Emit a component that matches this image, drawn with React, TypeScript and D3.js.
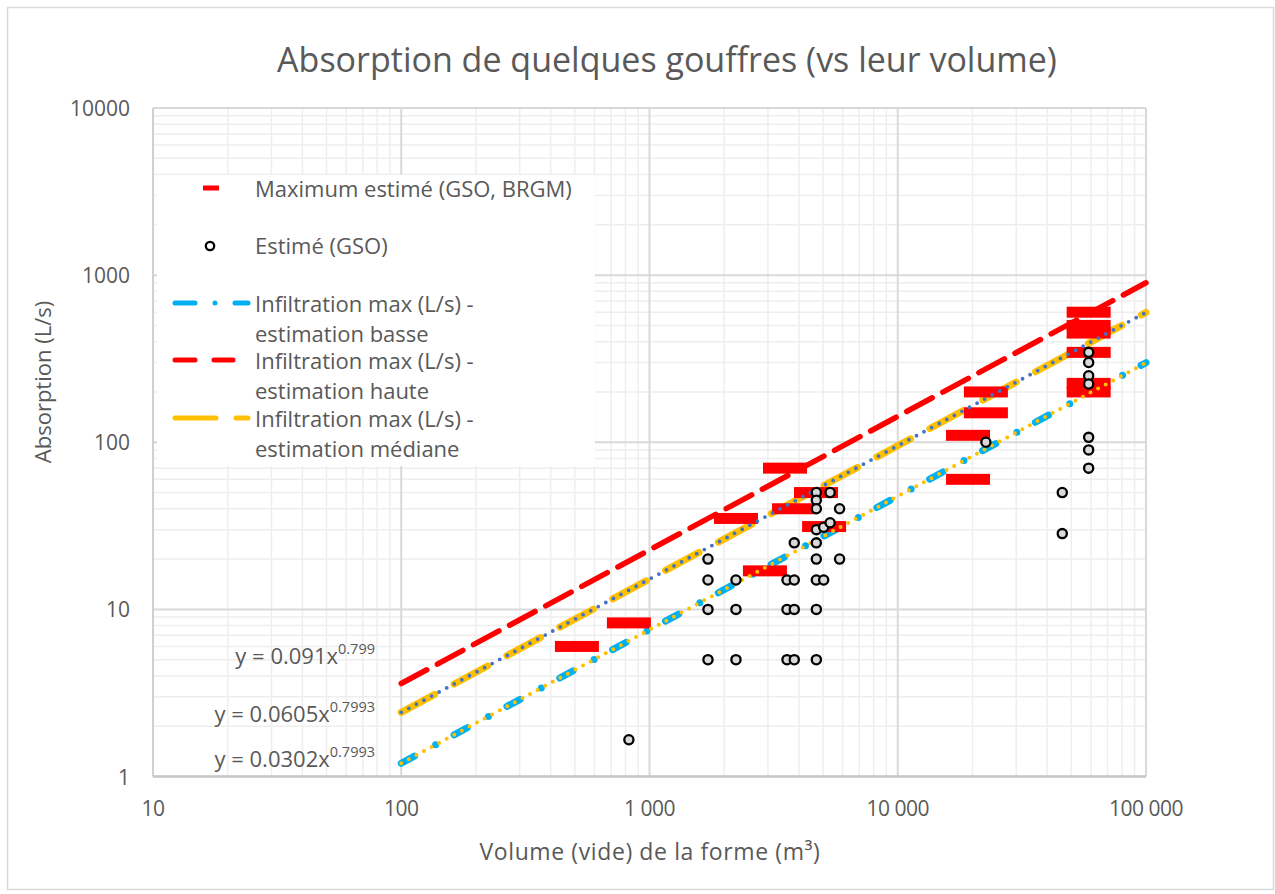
import { useMemo } from "react";
import * as d3 from "d3";

// maximum estimé (GSO, BRGM) - red bars
const maxVolume = [510, 826, 2230, 2917, 3514, 3822, 4685, 5050, 19190, 19190, 22650, 22650, 58750, 58750, 58750, 58750, 58750, 58750];
const maxAbsorption = [6, 8.3, 35, 17, 70, 40, 50, 31.3, 110, 60, 200, 150, 600, 500, 450, 345, 225, 200];

// estimé (GSO) - circles
const estVolume = [
  826,
  1720, 1720, 1720, 1720,
  2230, 2230, 2230,
  3580, 3580, 3580,
  3830, 3830, 3830, 3830,
  4700, 4700, 4700, 4700, 4700, 4700, 4700, 4700, 4700,
  5030, 5030,
  5340, 5340,
  5830, 5830,
  22650,
  46000, 46000,
  58750, 58750, 58750, 58750, 58750, 58750, 58750,
];
const estAbsorption = [
  1.66,
  20, 15, 10, 5,
  15, 10, 5,
  15, 10, 5,
  25, 15, 10, 5,
  50, 45, 40, 30, 25, 20, 15, 10, 5,
  31, 15,
  50, 33,
  40, 20,
  100,
  50, 28.4,
  345, 300, 250, 223, 107, 90, 70,
];

// infiltration lines (end points)
const lineVolume = [100, 100000];
const lowAbsorption = [1.2, 299];
const highAbsorption = [3.6, 900];
const medAbsorption = [2.42, 598];

const xTickValues = [10, 100, 1000, 10000, 100000];
const xTickLabels = ["10", "100", "1 000", "10 000", "100 000"];
const yTickValues = [1, 10, 100, 1000, 10000];
const yTickLabels = ["1", "10", "100", "1000", "10000"];

const equations = [
  { base: "y = 0.091x", exp: "0.799" },
  { base: "y = 0.0605x", exp: "0.7993" },
  { base: "y = 0.0302x", exp: "0.7993" },
];

const W = 1275;
const H = 894;
const FONT = "'Open Sans', sans-serif";
const GREY = "#595959";

export default function App() {
  const x = d3.scaleLog().domain([10, 100000]).range([153, 1146]);
  const y = d3.scaleLog().domain([1, 10000]).range([776.5, 108]);

  const line = d3
    .line<number>()
    .x((d, i) => x(lineVolume[i]))
    .y((d) => y(d));

  const xMinor = useMemo(() => x.ticks().filter((v) => Math.abs(Math.log10(v) % 1) > 1e-6), []);
  const yMinor = useMemo(() => y.ticks().filter((v) => Math.abs(Math.log10(v) % 1) > 1e-6), []);

  const legendY = [188, 245, 303, 360, 418];

  return (
    <svg width={W} height={H} style={{ position: "absolute", left: 0, top: 0, background: "#fff" }} fontFamily={FONT}>
      <rect x={7.5} y={7.5} width={1266} height={882} fill="#fff" stroke="#d9d9d9" strokeWidth={1.5} />

      <text x={667} y={59} textAnchor="middle" dominantBaseline="central" fontSize={34} fill={GREY}>
        Absorption de quelques gouffres (vs leur volume)
      </text>

      {/* minor gridlines */}
      <g stroke="#eeeeee" strokeWidth={1.5}>
        {xMinor.map((v) => (
          <line key={"xm" + v} x1={x(v)} x2={x(v)} y1={y(10000)} y2={y(1)} />
        ))}
        {yMinor.map((v) => (
          <line key={"ym" + v} x1={x(10)} x2={x(100000)} y1={y(v)} y2={y(v)} />
        ))}
      </g>
      {/* major gridlines */}
      <g stroke="#d9d9d9" strokeWidth={2}>
        {xTickValues.map((v) => (
          <line key={"xM" + v} x1={x(v)} x2={x(v)} y1={y(10000)} y2={y(1)} />
        ))}
        {yTickValues.map((v) => (
          <line key={"yM" + v} x1={x(10)} x2={x(100000)} y1={y(v)} y2={y(v)} />
        ))}
      </g>
      <line x1={x(10)} x2={x(100000)} y1={y(1)} y2={y(1)} stroke="#c8c8c8" strokeWidth={2.5} />
      <line x1={x(10)} x2={x(10)} y1={y(10000)} y2={y(1)} stroke="#d0d0d0" strokeWidth={2} />

      {/* tick labels */}
      <g fontSize={21} fill={GREY}>
        {yTickValues.map((v, i) => (
          <text key={"yl" + v} x={130} y={y(v)} textAnchor="end" dominantBaseline="central">
            {yTickLabels[i]}
          </text>
        ))}
        {xTickValues.map((v, i) => (
          <text key={"xl" + v} x={x(v)} y={808} textAnchor="middle" dominantBaseline="central" letterSpacing={-0.5}>
            {xTickLabels[i]}
          </text>
        ))}
      </g>

      <text x={650} y={851} textAnchor="middle" dominantBaseline="central" fontSize={23} letterSpacing={0.6} fill={GREY}>
        Volume (vide) de la forme (m³)
      </text>
      <text
        transform="translate(42,382) rotate(-90)"
        textAnchor="middle"
        dominantBaseline="central"
        fontSize={22}
        fill={GREY}
      >
        Absorption (L/s)
      </text>

      {/* infiltration lines */}
      <path d={line(highAbsorption) || ""} fill="none" stroke="#ff0000" strokeWidth={5.5} strokeDasharray="29 12" strokeLinecap="round" />
      <path d={line(medAbsorption) || ""} fill="none" stroke="#ffc000" strokeWidth={7} strokeDasharray="38 22" strokeLinecap="round" />
      <path d={line(lowAbsorption) || ""} fill="none" stroke="#00b0f0" strokeWidth={7} strokeDasharray="15 24 0 21" strokeLinecap="round" />

      {/* maximum estimé bars */}
      <g fill="#ff0000">
        {maxVolume.map((v, i) => (
          <rect key={"b" + i} x={x(v) - 22} y={y(maxAbsorption[i]) - 5.5} width={44} height={11} />
        ))}
      </g>

      {/* trendlines */}
      <path d={line(medAbsorption) || ""} fill="none" stroke="#4472c4" strokeWidth={3.8} strokeDasharray="0 8.6" strokeLinecap="round" />
      <path d={line(lowAbsorption) || ""} fill="none" stroke="#ffc000" strokeWidth={4} strokeDasharray="0 8.6" strokeLinecap="round" />

      {/* estimé circles */}
      <g fill="#d9d9d9" stroke="#000" strokeWidth={2.3}>
        {estVolume.map((v, i) => (
          <circle key={"c" + i} cx={x(v)} cy={y(estAbsorption[i])} r={4.6} />
        ))}
      </g>

      {/* trendline equations */}
      <g fontSize={22} fill={GREY} textAnchor="end">
        {equations.map((e, i) => (
          <text key={"eq" + i} x={375} y={[664, 722, 767][i]}>
            {e.base}
            <tspan fontSize={14.5} dy={-10}>
              {e.exp}
            </tspan>
          </text>
        ))}
      </g>

      {/* legend */}
      <rect x={157} y={175} width={438} height={291} fill="#fff" />
      <g fontSize={22} fill={GREY}>
        <rect x={203} y={legendY[0] - 2.5} width={16} height={5} fill="#ff0000" />
        <text x={255} y={legendY[0]} dominantBaseline="central">Maximum estimé (GSO, BRGM)</text>

        <circle cx={210} cy={legendY[1] + 1} r={4.2} fill="#fff" stroke="#000" strokeWidth={2.3} />
        <text x={255} y={legendY[1]} dominantBaseline="central">Estimé (GSO)</text>

        <path d={`M175,${legendY[2]}H195 M215,${legendY[2]}H215 M235,${legendY[2]}H248`} stroke="#00b0f0" strokeWidth={5} strokeLinecap="round" />
        <text x={255} y={legendY[2]} dominantBaseline="central">Infiltration max (L/s) -</text>
        <text x={255} y={legendY[2] + 30} dominantBaseline="central">estimation basse</text>

        <path d={`M175,${legendY[3]}H195 M214,${legendY[3]}H233`} stroke="#ff0000" strokeWidth={5} strokeLinecap="round" />
        <text x={255} y={legendY[3]} dominantBaseline="central">Infiltration max (L/s) -</text>
        <text x={255} y={legendY[3] + 30} dominantBaseline="central">estimation haute</text>

        <path d={`M175,${legendY[4]}H216 M236,${legendY[4]}H248`} stroke="#ffc000" strokeWidth={5} strokeLinecap="round" />
        <text x={255} y={legendY[4]} dominantBaseline="central">Infiltration max (L/s) -</text>
        <text x={255} y={legendY[4] + 30} dominantBaseline="central">estimation médiane</text>
      </g>
    </svg>
  );
}
